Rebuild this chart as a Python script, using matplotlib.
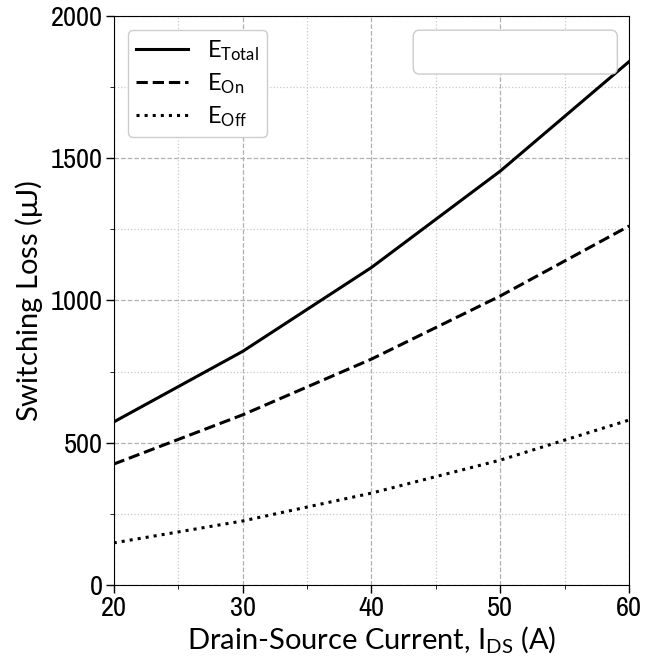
import matplotlib.pyplot as plt
from matplotlib import font_manager
from matplotlib.patches import FancyBboxPatch
from matplotlib.ticker import MultipleLocator

# valeurs
courant = [20, 30, 40, 50, 60]
e_total = [573, 821, 1116, 1455, 1840]
e_on = [425, 598, 794, 1016, 1262]
e_off = [148, 225, 323, 439, 580]
graduations_x = [20, 30, 40, 50, 60]
graduations_y = [0, 500, 1000, 1500, 2000]

plt.rcParams['font.family'] = ['Lato', 'DejaVu Sans']
plt.rcParams['mathtext.fontset'] = 'custom'
plt.rcParams['mathtext.rm'] = 'Lato'
plt.rcParams['mathtext.it'] = 'Lato'

# police etroite pour les graduations (si disponible)
etroites = [f.fname for f in font_manager.fontManager.ttflist
            if 'Narrow' in f.name and f.weight in (400, 'normal', 'regular')
            and f.style == 'normal']
if not etroites:
    etroites = [f.fname for f in font_manager.fontManager.ttflist
                if f.stretch in ('condensed', 'semi-condensed') and f.style == 'normal']
if etroites:
    fp_ticks = font_manager.FontProperties(fname=etroites[0], size=20.5)
else:
    fp_ticks = font_manager.FontProperties(family='DejaVu Sans', size=16)

fig = plt.figure(figsize=(6.46, 6.66), dpi=100)
ax = fig.add_axes([0.176, 0.1216, 0.798, 0.8544])

ax.plot(courant, e_total, 'k-', lw=2.2, label=r'E$_{\mathrm{Total}}$')
ax.plot(courant, e_on, 'k--', lw=2.2, label=r'E$_{\mathrm{On}}$')
ax.plot(courant, e_off, 'k:', lw=2.2, label=r'E$_{\mathrm{Off}}$')

ax.set_xlim(20, 60)
ax.set_ylim(0, 2000)
ax.set_xticks(graduations_x, [str(v) for v in graduations_x], fontproperties=fp_ticks)
ax.set_yticks(graduations_y, [str(v) for v in graduations_y], fontproperties=fp_ticks)
ax.xaxis.set_minor_locator(MultipleLocator(5))
ax.yaxis.set_minor_locator(MultipleLocator(250))
ax.grid(which='major', ls='--', color='#b0b0b0', lw=0.9)
ax.grid(which='minor', ls=':', color='#c8c8c8', lw=0.9)
ax.tick_params(length=6, width=1, pad=2)
ax.tick_params(which='minor', length=3)

ax.set_xlabel(r'Drain-Source Current, I$_{\mathrm{DS}}$ (A)', fontsize=21, labelpad=2)
ax.set_ylabel(r'Switching Loss ($\mathrm{\mu}$J)', fontsize=21, labelpad=4)

leg = ax.legend(loc='upper left', fontsize=17, handlelength=2.2, borderpad=0.35,
                labelspacing=0.35, handletextpad=0.8, borderaxespad=0.6,
                framealpha=1)
leg.get_frame().set_edgecolor('#cccccc')

# boite de legende vide en haut a droite
boite = FancyBboxPatch((0.581, 0.898), 0.396, 0.077, transform=ax.transAxes,
                       boxstyle='round,pad=0,rounding_size=0.012',
                       fc='white', ec='#cccccc', lw=1, zorder=5)
ax.add_patch(boite)

fig.savefig('out.png', dpi=100)
